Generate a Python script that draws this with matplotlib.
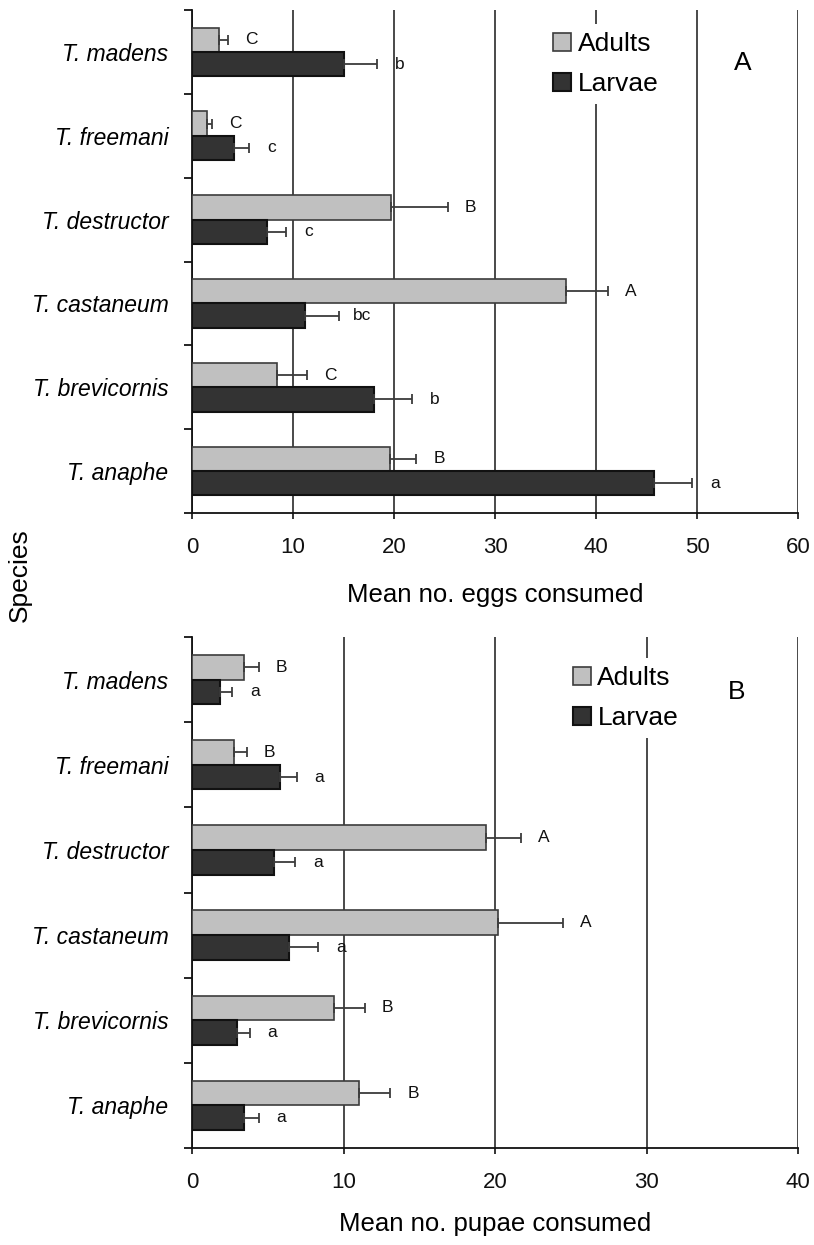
import matplotlib
matplotlib.use("Agg")
import matplotlib.pyplot as plt
import numpy as np

plt.rcParams['font.family'] = ['Liberation Sans', 'DejaVu Sans']

species = ["T. madens", "T. freemani", "T. destructor",
           "T. castaneum", "T. brevicornis", "T. anaphe"]

# Panel A: eggs consumed
eggs_adults = [2.7, 1.5, 19.7, 37.0, 8.4, 19.6]
eggs_adults_se = [0.9, 0.5, 5.6, 4.2, 3.0, 2.6]
eggs_larvae = [15.0, 4.2, 7.4, 11.2, 18.0, 45.7]
eggs_larvae_se = [3.3, 1.4, 1.9, 3.4, 3.8, 3.8]
eggs_adults_groups = ["C", "C", "B", "A", "C", "B"]
eggs_larvae_groups = ["b", "c", "c", "bc", "b", "a"]
eggs_ticks = [0, 10, 20, 30, 40, 50, 60]

# Panel B: pupae consumed
pupae_adults = [3.4, 2.8, 19.4, 20.2, 9.4, 11.0]
pupae_adults_se = [1.0, 0.8, 2.3, 4.3, 2.0, 2.1]
pupae_larvae = [1.85, 5.8, 5.4, 6.4, 3.0, 3.4]
pupae_larvae_se = [0.8, 1.1, 1.4, 1.9, 0.8, 1.0]
pupae_adults_groups = ["B", "B", "A", "A", "B", "B"]
pupae_larvae_groups = ["a", "a", "a", "a", "a", "a"]
pupae_ticks = [0, 10, 20, 30, 40]

ADULT_FACE, ADULT_EDGE = "#c0c0c0", "#3c3c3c"
LARVA_FACE, LARVA_EDGE = "#333333", "#111111"
ERR_COLOR = "#3c3c3c"
GRID_COLOR = "#3a3a3a"
BAR_H = 0.29

fig = plt.figure(figsize=(8.14, 12.45), dpi=100)
W, H = 814, 1245


def px_axes(left, top, right, bottom):
    return fig.add_axes([left / W, 1 - bottom / H, (right - left) / W, (bottom - top) / H])


def draw_panel(ax, adults, adults_se, larvae, larvae_se, g_adults, g_larvae,
               ticks, xlabel, panel, panel_xy, legend_anchor, tick_pad, label_pad):
    y = np.arange(len(species))
    ax.set_axisbelow(True)
    ax.xaxis.grid(True, color=GRID_COLOR, linewidth=1.3)
    ax.yaxis.grid(False)

    ya = y - BAR_H / 2
    yl = y + BAR_H / 2
    ax.barh(ya, adults, height=BAR_H, color=ADULT_FACE, edgecolor=ADULT_EDGE,
            linewidth=1.2, label="Adults", zorder=3)
    ax.barh(yl, larvae, height=BAR_H, color=LARVA_FACE, edgecolor=LARVA_EDGE,
            linewidth=1.5, label="Larvae", zorder=3)
    zeros = np.zeros(len(species))
    ax.errorbar(adults, ya, xerr=[zeros, adults_se], fmt="none", ecolor=ERR_COLOR,
                elinewidth=1.3, capsize=3.5, capthick=1.3, zorder=4)
    ax.errorbar(larvae, yl, xerr=[zeros, larvae_se], fmt="none", ecolor=ERR_COLOR,
                elinewidth=1.3, capsize=3.5, capthick=1.3, zorder=4)

    for m, s, yy, g in zip(adults, adults_se, ya, g_adults):
        ax.annotate(g, (m + s, yy), xytext=(16.5, 0), textcoords="offset points",
                    ha="center", va="center", fontsize=12.5, color="#111111", zorder=5)
    for m, s, yy, g in zip(larvae, larvae_se, yl, g_larvae):
        ax.annotate(g, (m + s, yy), xytext=(16.5, 0), textcoords="offset points",
                    ha="center", va="center", fontsize=12.5, color="#111111", zorder=5)

    ax.set_xlim(ticks[0], ticks[-1])
    ax.set_xticks(ticks)
    ax.set_xticklabels([str(t) for t in ticks], fontsize=16)
    ax.tick_params(axis="x", which="major", direction="out", length=4, width=1.2,
                   pad=tick_pad, colors="#111111")

    ax.set_ylim(len(species) - 0.5, -0.5)
    ax.set_yticks(np.arange(len(species) + 1) - 0.5)
    ax.set_yticklabels([])
    ax.tick_params(axis="y", which="major", direction="out", length=5.5, width=1.2)
    ax.set_yticks(y, minor=True)
    ax.set_yticklabels(species, minor=True, fontsize=16.5, style="italic")
    ax.tick_params(axis="y", which="minor", length=0, pad=17)

    for side in ("top", "right"):
        ax.spines[side].set_visible(False)
    for side in ("left", "bottom"):
        ax.spines[side].set_linewidth(1.3)
        ax.spines[side].set_color("#111111")

    ax.set_xlabel(xlabel, fontsize=18.5, labelpad=label_pad)

    leg = ax.legend(loc="upper left", bbox_to_anchor=legend_anchor, frameon=True,
                    fancybox=False, edgecolor="none", facecolor="white", framealpha=1,
                    fontsize=19, handlelength=0.68, handleheight=0.68,
                    handletextpad=0.25, labelspacing=0.6, borderpad=0.3,
                    borderaxespad=0)
    leg.set_zorder(6)
    ax.text(panel_xy[0], panel_xy[1], panel, transform=ax.transAxes, fontsize=19,
            ha="center", va="center", zorder=7)


axA = px_axes(192, 10, 798, 513)
draw_panel(axA, eggs_adults, eggs_adults_se, eggs_larvae, eggs_larvae_se,
           eggs_adults_groups, eggs_larvae_groups, eggs_ticks,
           "Mean no. eggs consumed", "A", (0.909, 0.895), (0.5825, 0.972),
           tick_pad=13, label_pad=18)

axB = px_axes(192, 637, 798, 1148)
draw_panel(axB, pupae_adults, pupae_adults_se, pupae_larvae, pupae_larvae_se,
           pupae_adults_groups, pupae_larvae_groups, pupae_ticks,
           "Mean no. pupae consumed", "B", (0.898, 0.892), (0.6155, 0.958),
           tick_pad=13, label_pad=14)

fig.text(20 / W, 1 - 575 / H, "Species", rotation=90, fontsize=19,
         ha="center", va="center")

fig.savefig("out.png", dpi=100)
